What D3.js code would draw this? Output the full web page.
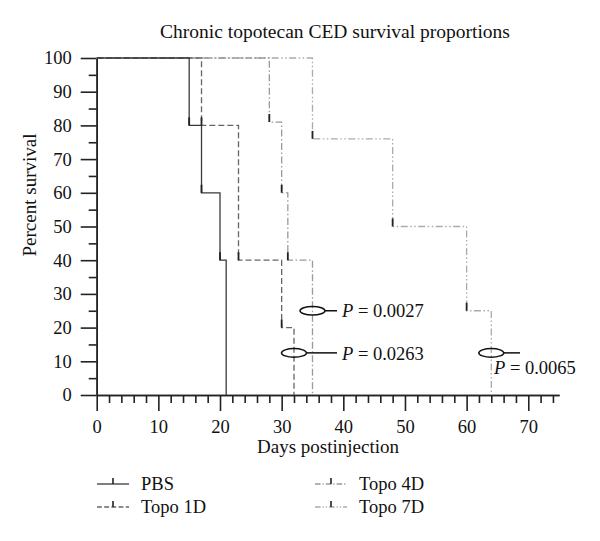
<!DOCTYPE html>
<html>
<head>
<meta charset="utf-8">
<script src="https://cdn.jsdelivr.net/npm/d3@7"></script>
<style>
  html, body { margin: 0; padding: 0; background: #fff; }
  svg { display: block; }
  text { font-family: "Liberation Serif", "Times New Roman", serif; fill: #111; }
</style>
</head>
<body>
<svg id="chart" width="600" height="541"></svg>
<script>
// ---- data ----
const seriesNames = ["PBS", "Topo 1D", "Topo 4D", "Topo 7D"];
const pbsDays   = [0, 15, 17, 20, 21];
const pbsSurv   = [100, 80, 60, 40, 0];
const topo1Days = [0, 17, 23, 30, 32];
const topo1Surv = [100, 80, 40, 20, 0];
const topo4Days = [0, 28, 30, 31, 35];
const topo4Surv = [100, 81, 60, 40, 0];
const topo7Days = [0, 35, 48, 60, 64];
const topo7Surv = [100, 76, 50, 25, 0];
const xTickValues = [0, 10, 20, 30, 40, 50, 60, 70];
const yTickValues = [0, 10, 20, 30, 40, 50, 60, 70, 80, 90, 100];
const pLabels = ["P = 0.0027", "P = 0.0263", "P = 0.0065"];
const pAnchorDays = [35, 32, 64];
const pAnchorSurv = [25, 12.5, 12.5];

// ---- styles ----
const styles = [
  { color: "#3a3a3a", dash: null },
  { color: "#666", dash: "6,3" },
  { color: "#9a9a9a", dash: "7,2.5,1.5,2.5" },
  { color: "#ababab", dash: "7,2.5,1.5,2.5,1.5,2.5" }
];

const svg = d3.select("#chart");
const x = d3.scaleLinear().domain([0, 75]).range([96.7, 559.1]);
const y = d3.scaleLinear().domain([0, 100]).range([395, 58]);

// title
svg.append("text").attr("x", 335).attr("y", 38).attr("text-anchor", "middle")
  .style("font-size", "19.5px").text("Chronic topotecan CED survival proportions");

// axes
const axisColor = "#222";
const xAxisMajor = d3.axisBottom(x).tickValues(xTickValues).tickSize(16).tickSizeOuter(0).tickPadding(9);
const xAxisMinor = d3.axisBottom(x).tickValues(d3.range(0, 76, 2).filter(v => v % 10 !== 0)).tickSize(8).tickSizeOuter(0).tickFormat("");
const yAxisMajor = d3.axisLeft(y).tickValues(yTickValues).tickSize(16).tickSizeOuter(0).tickPadding(9);
const yAxisMinor = d3.axisLeft(y).tickValues(d3.range(5, 100, 10)).tickSize(8).tickSizeOuter(0).tickFormat("");

function styleAxis(g) {
  g.selectAll("path, line").attr("stroke", axisColor).attr("stroke-width", 1.6);
  g.selectAll("text").style("font-size", "18.5px").style("font-family", "'Liberation Serif', serif").attr("fill", "#111");
}
svg.append("g").attr("transform", `translate(0,${y(0)})`).call(xAxisMinor).call(styleAxis);
svg.append("g").attr("transform", `translate(0,${y(0)})`).call(xAxisMajor).call(styleAxis);
svg.append("g").attr("transform", `translate(${x(0)},0)`).call(yAxisMinor).call(styleAxis);
svg.append("g").attr("transform", `translate(${x(0)},0)`).call(yAxisMajor).call(styleAxis);

// axis labels
svg.append("text").attr("x", 328).attr("y", 453).attr("text-anchor", "middle")
  .style("font-size", "19px").text("Days postinjection");
svg.append("text").attr("transform", "translate(36,195) rotate(-90)").attr("text-anchor", "middle")
  .style("font-size", "19px").text("Percent survival");

// series
const allSeries = [
  { days: pbsDays, surv: pbsSurv },
  { days: topo1Days, surv: topo1Surv },
  { days: topo4Days, surv: topo4Surv },
  { days: topo7Days, surv: topo7Surv }
];
const line = d3.line().x(d => x(d[0])).y(d => y(d[1])).curve(d3.curveStepAfter);
[3, 2, 1, 0].forEach(i => {
  const s = allSeries[i];
  const pts = s.days.map((d, k) => [d, s.surv[k]]);
  svg.append("path").attr("d", line(pts)).attr("fill", "none")
    .attr("stroke", styles[i].color).attr("stroke-width", 1.3)
    .attr("stroke-dasharray", styles[i].dash);
});
allSeries.forEach((s, i) => {
  s.days.forEach((d, k) => {
    if (k === 0 || k === s.days.length - 1) return;
    svg.append("line").attr("x1", x(d)).attr("x2", x(d))
      .attr("y1", y(s.surv[k])).attr("y2", y(s.surv[k]) - 8)
      .attr("stroke", "#222").attr("stroke-width", 1.8);
  });
});

// p-value annotations
const pLineEnd = [337, 337, 520];
const pTextPos = [[342, 317], [342, 360], [494, 374]];
pLabels.forEach((lab, i) => {
  const cx = x(pAnchorDays[i]), cy = y(pAnchorSurv[i]);
  svg.append("line").attr("x1", cx + 12.5).attr("x2", pLineEnd[i])
    .attr("y1", cy).attr("y2", cy).attr("stroke", "#111").attr("stroke-width", 1.5);
  svg.append("ellipse").attr("cx", cx).attr("cy", cy).attr("rx", 12.5).attr("ry", 4.3)
    .attr("fill", "none").attr("stroke", "#111").attr("stroke-width", 1.5);
  const t = svg.append("text").attr("x", pTextPos[i][0]).attr("y", pTextPos[i][1]).style("font-size", "18.5px");
  t.append("tspan").style("font-style", "italic").text(lab.slice(0, 1));
  t.append("tspan").text(lab.slice(1));
});

// legend
const legendPos = [[97, 484], [97, 507], [315, 484], [315, 507]];
seriesNames.forEach((name, i) => {
  const [lx, ly] = legendPos[i];
  svg.append("line").attr("x1", lx).attr("x2", lx + 32).attr("y1", ly).attr("y2", ly)
    .attr("stroke", styles[i].color).attr("stroke-width", 1.3)
    .attr("stroke-dasharray", styles[i].dash ? styles[i].dash.split(",").map(v => +v * 0.8).join(",") : null);
  svg.append("line").attr("x1", lx + 16).attr("x2", lx + 16).attr("y1", ly).attr("y2", ly - 6)
    .attr("stroke", "#222").attr("stroke-width", 1.6);
  svg.append("text").attr("x", lx + 44).attr("y", ly + 6).style("font-size", "18.5px").text(name);
});
</script>
</body>
</html>
